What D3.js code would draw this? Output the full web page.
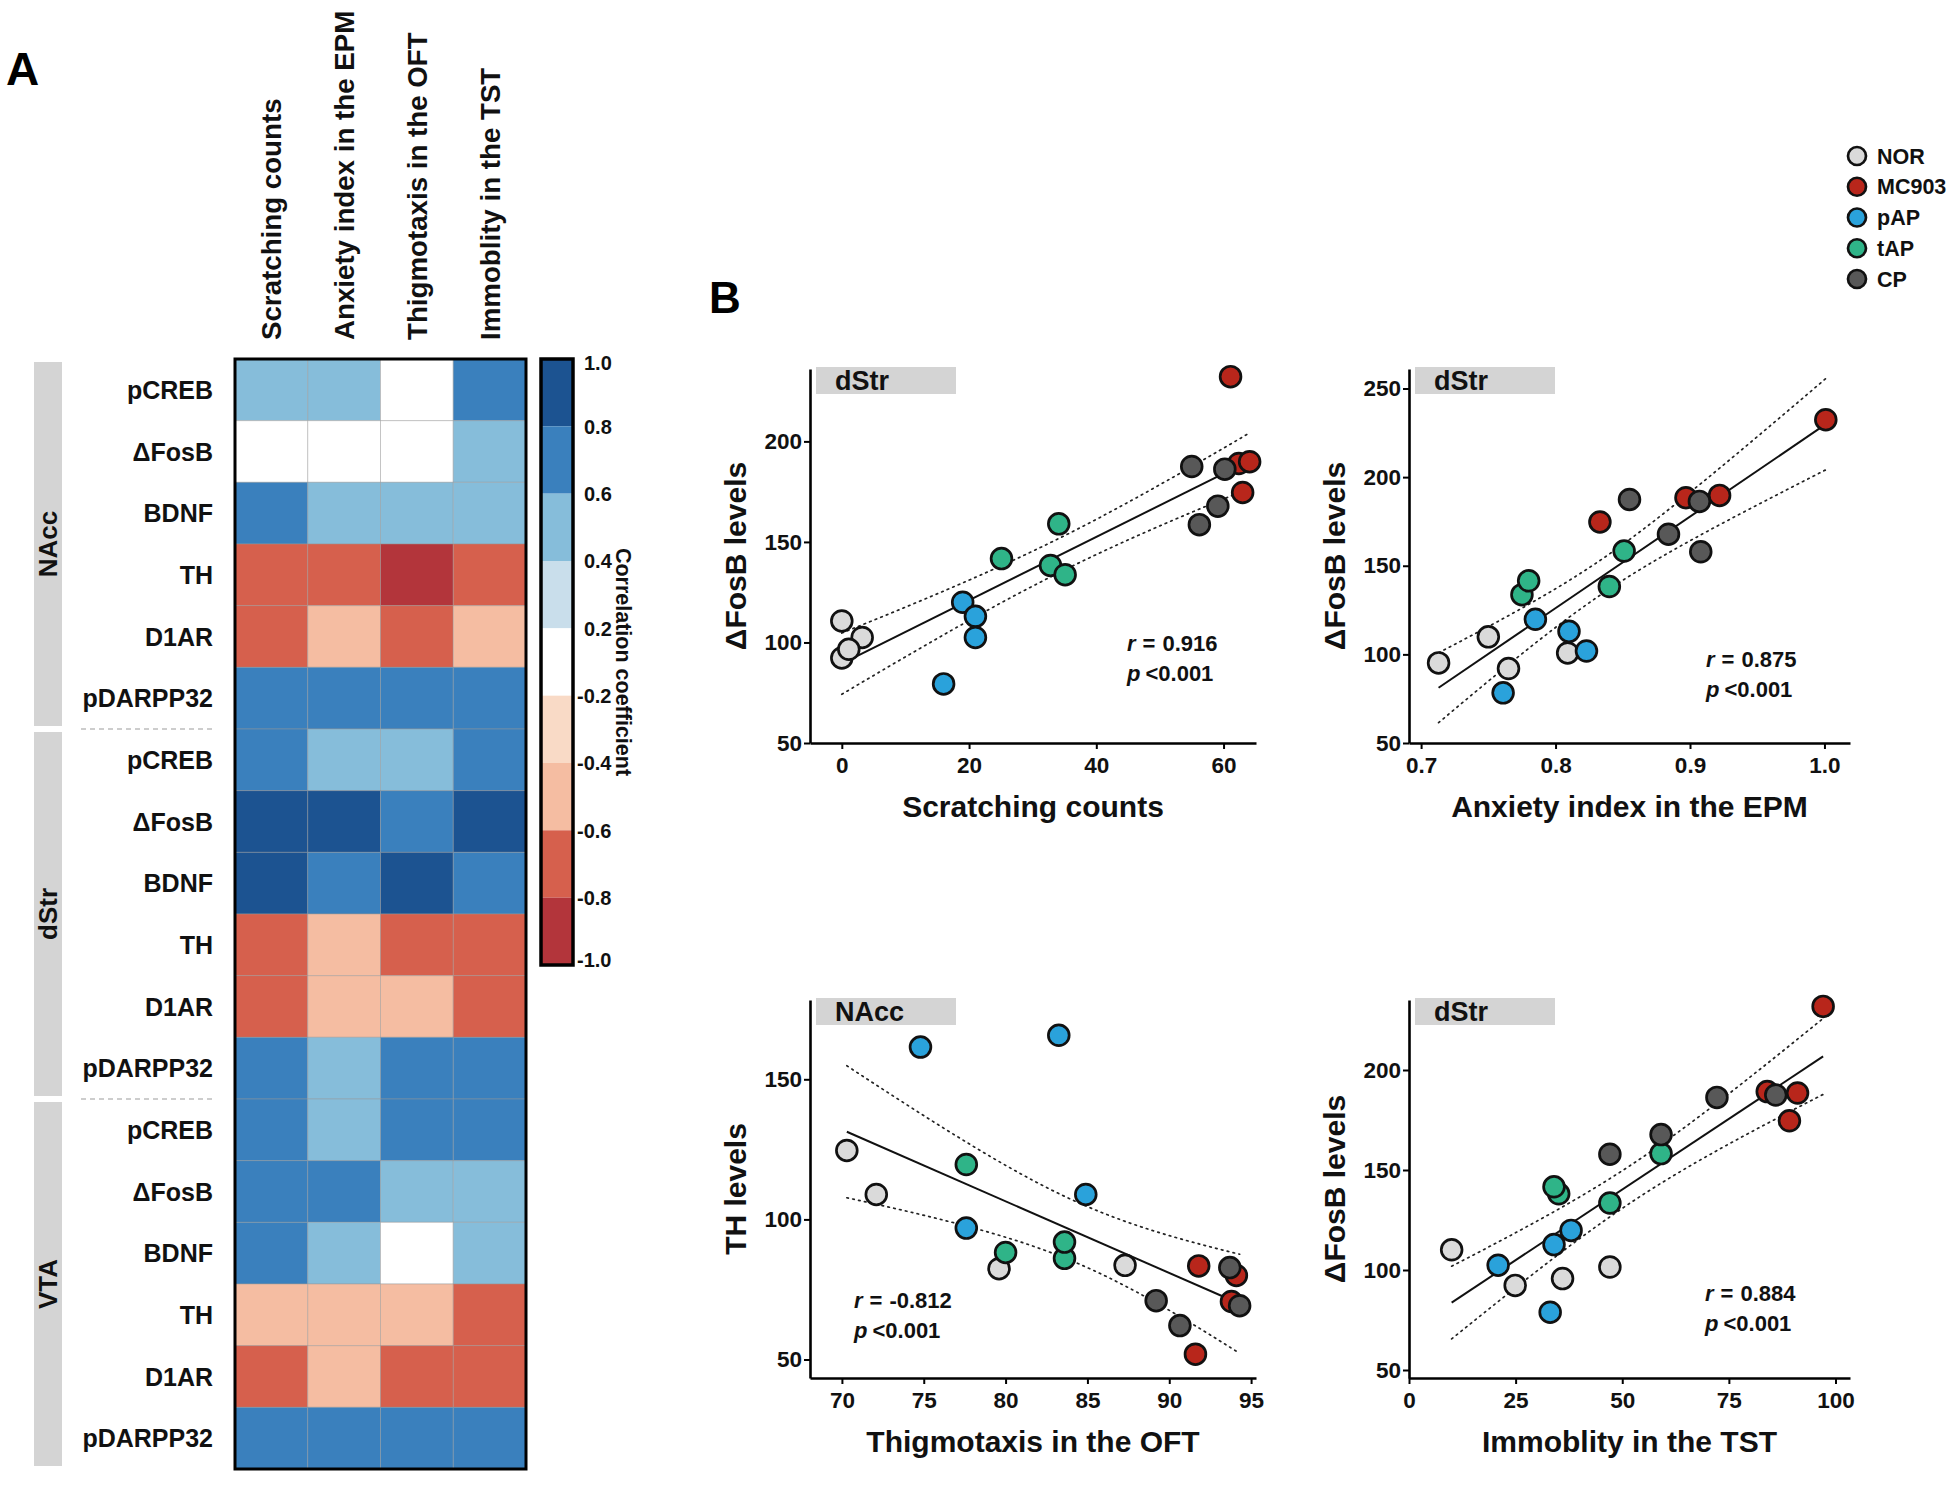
<!DOCTYPE html>
<html>
<head>
<meta charset="utf-8">
<script src="https://cdn.jsdelivr.net/npm/d3@7/dist/d3.min.js"></script>
<style>
  html, body { margin: 0; padding: 0; background: #fff; }
  svg { display: block; font-family: "Liberation Sans", Arial, Helvetica, sans-serif; font-weight: bold; }
</style>
</head>
<body>
<svg id="chart" width="1960" height="1492"></svg>
<script>
// ---------------- DATA ----------------
const behaviors = ["Scratching counts", "Anxiety index in the EPM", "Thigmotaxis in the OFT", "Immoblity in the TST"];
const regions = ["NAcc", "dStr", "VTA"];
const markers = ["pCREB", "\u0394FosB", "BDNF", "TH", "D1AR", "pDARPP32"];

// correlation coefficients (rows = markers, cols = behaviors), read as bin values
const corrNAcc = [
  [0.5, 0.5, 0.0, 0.7],
  [0.0, 0.0, 0.0, 0.5],
  [0.7, 0.5, 0.5, 0.5],
  [-0.7, -0.7, -0.9, -0.7],
  [-0.7, -0.5, -0.7, -0.5],
  [0.7, 0.7, 0.7, 0.7]
];
const corrDStr = [
  [0.7, 0.5, 0.5, 0.7],
  [0.9, 0.9, 0.7, 0.9],
  [0.9, 0.7, 0.9, 0.7],
  [-0.7, -0.5, -0.7, -0.7],
  [-0.7, -0.5, -0.5, -0.7],
  [0.7, 0.5, 0.7, 0.7]
];
const corrVTA = [
  [0.7, 0.5, 0.7, 0.7],
  [0.7, 0.7, 0.5, 0.5],
  [0.7, 0.5, 0.0, 0.5],
  [-0.5, -0.5, -0.5, -0.7],
  [-0.7, -0.5, -0.7, -0.7],
  [0.7, 0.7, 0.7, 0.7]
];
const colorbarTicks = ["1.0", "0.8", "0.6", "0.4", "0.2", "-0.2", "-0.4", "-0.6", "-0.8", "-1.0"];
const colorBreaks = [-0.8, -0.6, -0.4, -0.2, 0.2, 0.4, 0.6, 0.8];

const groups = ["NOR", "MC903", "pAP", "tAP", "CP"];
const pointGroups = ["NOR","NOR","NOR","NOR","MC903","MC903","MC903","MC903","pAP","pAP","pAP","pAP","tAP","tAP","tAP","tAP","CP","CP","CP","CP"];

// Plot 1: dStr ΔFosB vs scratching counts
const scratchCounts = [0, 3.2, 0, 1.1, 61.1, 62.4, 64.1, 63.0, 19.0, 21.0, 21.0, 16.0, 25.1, 34.1, 32.8, 35.1, 55.0, 60.2, 59.1, 56.2];
const fosBScratch   = [110.7, 102.5, 92.3, 96.6, 232.2, 189.0, 189.9, 174.6, 120.0, 113.0, 102.5, 79.4, 141.7, 159.0, 138.3, 133.7, 187.5, 186.2, 167.8, 158.6];
// Plot 2: dStr ΔFosB vs anxiety index
const anxietyIndex  = [0.713, 0.750, 0.765, 0.809, 0.833, 0.897, 0.922, 1.001, 0.785, 0.810, 0.823, 0.761, 0.775, 0.780, 0.840, 0.851, 0.855, 0.884, 0.907, 0.908];
const fosBAnxiety   = [95.2, 109.9, 92.0, 100.8, 174.7, 188.4, 189.7, 232.4, 119.8, 113.0, 101.9, 78.3, 133.7, 141.5, 138.3, 158.3, 187.4, 167.8, 186.3, 157.9];
// Plot 3: NAcc TH vs thigmotaxis
const thigmotaxis   = [70.3, 72.1, 79.6, 87.3, 91.8, 91.6, 94.1, 93.8, 74.8, 83.25, 84.9, 77.6, 77.6, 80.0, 83.6, 83.6, 89.2, 90.65, 93.7, 94.3];
const thLevels      = [124.6, 108.9, 82.4, 83.6, 83.4, 51.9, 80.0, 70.7, 161.5, 165.7, 108.9, 96.9, 119.6, 88.2, 86.1, 91.9, 71.0, 62.1, 82.8, 69.2];
// Plot 4: dStr ΔFosB vs immobility
const immobility    = [10.0, 24.9, 36.0, 47.1, 84.0, 91.1, 89.2, 97.1, 20.9, 34.0, 38.0, 33.1, 35.1, 34.0, 47.1, 59.1, 47.1, 59.1, 72.2, 86.0];
const fosBImmob     = [110.1, 92.3, 95.7, 101.5, 189.2, 188.5, 174.6, 231.8, 102.4, 112.7, 119.8, 78.9, 138.1, 141.6, 133.5, 158.2, 157.9, 167.7, 186.3, 187.5];

const statR = ["0.916", "0.875", "-0.812", "0.884"];
const statP = ["<0.001", "<0.001", "<0.001", "<0.001"];

// ---------------- STYLE ----------------
const binColors = ["#b3353b", "#d6604d", "#f5bda2", "#f9dac6", "#ffffff", "#c9deeb", "#86bdda", "#3a80bd", "#1c5391"];
const groupColors = { NOR: "#dadada", MC903: "#b8261b", pAP: "#2aa2db", tAP: "#2fb488", CP: "#585858" };
const FONT = '"Liberation Sans", Arial, Helvetica, sans-serif';

const svg = d3.select("#chart");
svg.append("rect").attr("width", 1960).attr("height", 1492).attr("fill", "#fff");

// ---------------- PANEL A: HEATMAP ----------------
const hm = { left: 235, right: 526, top: 359, bottom: 1469 };
const rowKeys = [];
regions.forEach(r => markers.forEach(m => rowKeys.push(r + "|" + m)));
const corrAll = [corrNAcc, corrDStr, corrVTA];

const xBand = d3.scaleBand().domain(behaviors).range([hm.left, hm.right]);
const yBand = d3.scaleBand().domain(rowKeys).range([hm.top, hm.bottom]);
const colorScale = d3.scaleThreshold().domain(colorBreaks).range(binColors);

const cells = [];
regions.forEach((r, ri) => markers.forEach((m, mi) => behaviors.forEach((b, bi) => {
  cells.push({ row: r + "|" + m, col: b, v: corrAll[ri][mi][bi] });
})));

svg.append("g").selectAll("rect").data(cells).join("rect")
  .attr("x", d => xBand(d.col))
  .attr("y", d => yBand(d.row))
  .attr("width", xBand.bandwidth())
  .attr("height", yBand.bandwidth())
  .attr("fill", d => colorScale(d.v))
  .attr("stroke", "#9a9a9a")
  .attr("stroke-opacity", 0.45)
  .attr("stroke-width", 1);

svg.append("rect")
  .attr("x", hm.left).attr("y", hm.top)
  .attr("width", hm.right - hm.left).attr("height", hm.bottom - hm.top)
  .attr("fill", "none").attr("stroke", "#000").attr("stroke-width", 3);

// column headers
svg.append("g").selectAll("text").data(behaviors).join("text")
  .attr("transform", d => `translate(${xBand(d) + xBand.bandwidth() / 2},340) rotate(-90)`)
  .attr("text-anchor", "start")
  .attr("dy", "0.36em")
  .attr("font-size", 27.7)
  .attr("fill", "#111")
  .text(d => d);

// row labels
svg.append("g").selectAll("text").data(rowKeys).join("text")
  .attr("x", 213)
  .attr("y", d => yBand(d) + yBand.bandwidth() / 2)
  .attr("dy", "0.36em")
  .attr("text-anchor", "end")
  .attr("font-size", 25)
  .attr("fill", "#111")
  .text(d => d.split("|")[1]);

// group bars
const step = yBand.step();
regions.forEach((r, i) => {
  const y0 = yBand(r + "|" + markers[0]);
  const y1 = yBand(r + "|" + markers[markers.length - 1]) + step;
  svg.append("rect").attr("x", 34).attr("y", y0 + 3).attr("width", 28).attr("height", y1 - y0 - 6).attr("fill", "#d4d4d4");
  svg.append("text")
    .attr("transform", `translate(48,${(y0 + y1) / 2}) rotate(-90)`)
    .attr("text-anchor", "middle").attr("dy", "0.36em")
    .attr("font-size", 26).attr("fill", "#111")
    .text(r);
  if (i > 0) {
    svg.append("line").attr("x1", 81).attr("x2", 215).attr("y1", y0).attr("y2", y0)
      .attr("stroke", "#bdbdbd").attr("stroke-width", 1.5).attr("stroke-dasharray", "5,4");
  }
});

// colorbar
const cb = { x: 541, w: 32, top: 359, bottom: 965 };
const cbScale = d3.scalePoint().domain(colorbarTicks).range([cb.top, cb.bottom]);
const cbBins = d3.range(colorbarTicks.length - 1).map(i => ({
  y0: cbScale(colorbarTicks[i]), y1: cbScale(colorbarTicks[i + 1]),
  v: (parseFloat(colorbarTicks[i]) + parseFloat(colorbarTicks[i + 1])) / 2
}));
svg.append("g").selectAll("rect").data(cbBins).join("rect")
  .attr("x", cb.x).attr("y", d => d.y0).attr("width", cb.w).attr("height", d => d.y1 - d.y0)
  .attr("fill", d => colorScale(d.v));
svg.append("rect").attr("x", cb.x).attr("y", cb.top).attr("width", cb.w).attr("height", cb.bottom - cb.top)
  .attr("fill", "none").attr("stroke", "#000").attr("stroke-width", 3.5);
svg.append("g").selectAll("text").data(colorbarTicks).join("text")
  .attr("x", d => d.startsWith("-") ? 577 : 584)
  .attr("y", (d, i) => cbScale(d) + (i === 0 ? 4 : (i === colorbarTicks.length - 1 ? -5 : 0)))
  .attr("dy", "0.36em")
  .attr("font-size", 20).attr("fill", "#111")
  .text(d => d);
svg.append("text")
  .attr("transform", `translate(624,${(cb.top + cb.bottom) / 2}) rotate(90)`)
  .attr("text-anchor", "middle").attr("dy", "0.36em")
  .attr("font-size", 21.5).attr("fill", "#111")
  .text("Correlation coefficient");

// panel letters
svg.append("text").attr("x", 6).attr("y", 85).attr("font-size", 46).attr("fill", "#000").text("A");
svg.append("text").attr("x", 709).attr("y", 313).attr("font-size", 44).attr("fill", "#000").text("B");

// ---------------- PANEL B: SCATTERS ----------------
const T_CRIT = 2.101; // t(0.975, df = 18)

function scatter(cfg) {
  const g = svg.append("g");
  const x = d3.scaleLinear().domain(cfg.xDomain).range([cfg.left, cfg.right]);
  const y = d3.scaleLinear().domain(cfg.yDomain).range([cfg.bottom, cfg.top]);

  // region tag
  g.append("rect").attr("x", cfg.left + 6).attr("y", cfg.top - 2).attr("width", 140).attr("height", 27).attr("fill", "#d4d4d4");
  g.append("text").attr("x", cfg.left + 25).attr("y", cfg.top + 21).attr("font-size", 27).attr("fill", "#111").text(cfg.region);

  // regression & 95% CI
  const xs = cfg.xs, ys = cfg.ys, n = xs.length;
  const mx = d3.mean(xs), my = d3.mean(ys);
  const sxx = d3.sum(xs, v => (v - mx) * (v - mx));
  const sxy = d3.sum(xs.map((v, i) => (v - mx) * (ys[i] - my)));
  const b = sxy / sxx, a = my - b * mx;
  const sse = d3.sum(xs.map((v, i) => Math.pow(ys[i] - (a + b * v), 2)));
  const s = Math.sqrt(sse / (n - 2));
  const [xmin, xmax] = d3.extent(xs);
  const grid = d3.range(0, 101).map(i => xmin + (xmax - xmin) * i / 100);
  const band = sign => grid.map(v => [v, a + b * v + sign * T_CRIT * s * Math.sqrt(1 / n + (v - mx) * (v - mx) / sxx)]);
  const line = d3.line().x(d => x(d[0])).y(d => y(d[1]));
  [1, -1].forEach(sg => g.append("path").attr("d", line(band(sg))).attr("fill", "none")
    .attr("stroke", "#222").attr("stroke-width", 1.7).attr("stroke-dasharray", "1.6,4.4").attr("stroke-linecap", "round"));
  g.append("path").attr("d", line([[xmin, a + b * xmin], [xmax, a + b * xmax]]))
    .attr("fill", "none").attr("stroke", "#111").attr("stroke-width", 2);

  // points
  const pts = xs.map((v, i) => ({ x: v, y: ys[i], g: pointGroups[i] }));
  pts.sort((p, q) => groups.indexOf(p.g) - groups.indexOf(q.g));
  g.append("g").selectAll("circle").data(pts).join("circle")
    .attr("cx", d => x(d.x)).attr("cy", d => y(d.y)).attr("r", 10.4)
    .attr("fill", d => groupColors[d.g]).attr("stroke", "#111").attr("stroke-width", 2.7);

  // axes
  const ax = g.append("g").attr("transform", `translate(0,${cfg.bottom})`)
    .call(d3.axisBottom(x).tickValues(cfg.xTicks).tickFormat(cfg.xFormat).tickSize(6).tickSizeOuter(0).tickPadding(8));
  const ay = g.append("g").attr("transform", `translate(${cfg.left},0)`)
    .call(d3.axisLeft(y).tickValues(cfg.yTicks).tickSize(6).tickSizeOuter(0).tickPadding(2));
  [ax, ay].forEach(sel => {
    sel.select(".domain").attr("stroke", "#000").attr("stroke-width", 2.6);
    sel.selectAll(".tick line").attr("stroke", "#000").attr("stroke-width", 2);
    sel.selectAll(".tick text").attr("font-size", 22.5).attr("font-family", FONT).attr("font-weight", "bold").attr("fill", "#111");
  });

  // axis titles
  g.append("text").attr("x", (cfg.left + cfg.right) / 2).attr("y", cfg.bottom + 74)
    .attr("text-anchor", "middle").attr("font-size", 30).attr("fill", "#111").text(cfg.xTitle);
  g.append("text").attr("transform", `translate(${cfg.left - 64},${(cfg.top + cfg.bottom) / 2}) rotate(-90)`)
    .attr("text-anchor", "middle").attr("font-size", 30).attr("fill", "#111").text(cfg.yTitle);

  // stats
  const t1 = g.append("text").attr("x", cfg.statX).attr("y", cfg.statY).attr("font-size", 22).attr("fill", "#111");
  t1.append("tspan").attr("font-style", "italic").text("r");
  t1.append("tspan").attr("dx", 7).text("=");
  t1.append("tspan").attr("dx", 7).text(cfg.r);
  const t2 = g.append("text").attr("x", cfg.statX).attr("y", cfg.statY + 30).attr("font-size", 22).attr("fill", "#111");
  t2.append("tspan").attr("font-style", "italic").text("p");
  t2.append("tspan").attr("dx", 5).text(cfg.p);
}

scatter({ left: 810, right: 1256, top: 369, bottom: 743, xDomain: [-5, 65.1], yDomain: [50, 236],
  xTicks: [0, 20, 40, 60], yTicks: [50, 100, 150, 200], xFormat: d3.format("d"),
  xs: scratchCounts, ys: fosBScratch, region: "dStr", xTitle: "Scratching counts", yTitle: "\u0394FosB levels",
  r: statR[0], p: statP[0], statX: 1127, statY: 651 });
scatter({ left: 1409, right: 1850, top: 369, bottom: 743, xDomain: [0.691, 1.019], yDomain: [50, 261],
  xTicks: [0.7, 0.8, 0.9, 1.0], yTicks: [50, 100, 150, 200, 250], xFormat: d3.format(".1f"),
  xs: anxietyIndex, ys: fosBAnxiety, region: "dStr", xTitle: "Anxiety index in the EPM", yTitle: "\u0394FosB levels",
  r: statR[1], p: statP[1], statX: 1706, statY: 667 });
scatter({ left: 810, right: 1256, top: 1000, bottom: 1378, xDomain: [68.05, 95.3], yDomain: [43.4, 178.3],
  xTicks: [70, 75, 80, 85, 90, 95], yTicks: [50, 100, 150], xFormat: d3.format("d"),
  xs: thigmotaxis, ys: thLevels, region: "NAcc", xTitle: "Thigmotaxis in the OFT", yTitle: "TH levels",
  r: statR[2], p: statP[2], statX: 854, statY: 1308 });
scatter({ left: 1409, right: 1850, top: 1000, bottom: 1378, xDomain: [0, 103.4], yDomain: [46, 235],
  xTicks: [0, 25, 50, 75, 100], yTicks: [50, 100, 150, 200], xFormat: d3.format("d"),
  xs: immobility, ys: fosBImmob, region: "dStr", xTitle: "Immoblity in the TST", yTitle: "\u0394FosB levels",
  r: statR[3], p: statP[3], statX: 1705, statY: 1301 });

// legend
const lg = svg.append("g");
const legY = d3.scalePoint().domain(groups).range([156, 279]);
lg.selectAll("circle").data(groups).join("circle")
  .attr("cx", 1857).attr("cy", d => legY(d)).attr("r", 9)
  .attr("fill", d => groupColors[d]).attr("stroke", "#111").attr("stroke-width", 2.7);
lg.selectAll("text").data(groups).join("text")
  .attr("x", 1877).attr("y", d => legY(d)).attr("dy", "0.36em")
  .attr("font-size", 21.5).attr("fill", "#111").text(d => d);
</script>
</body>
</html>
